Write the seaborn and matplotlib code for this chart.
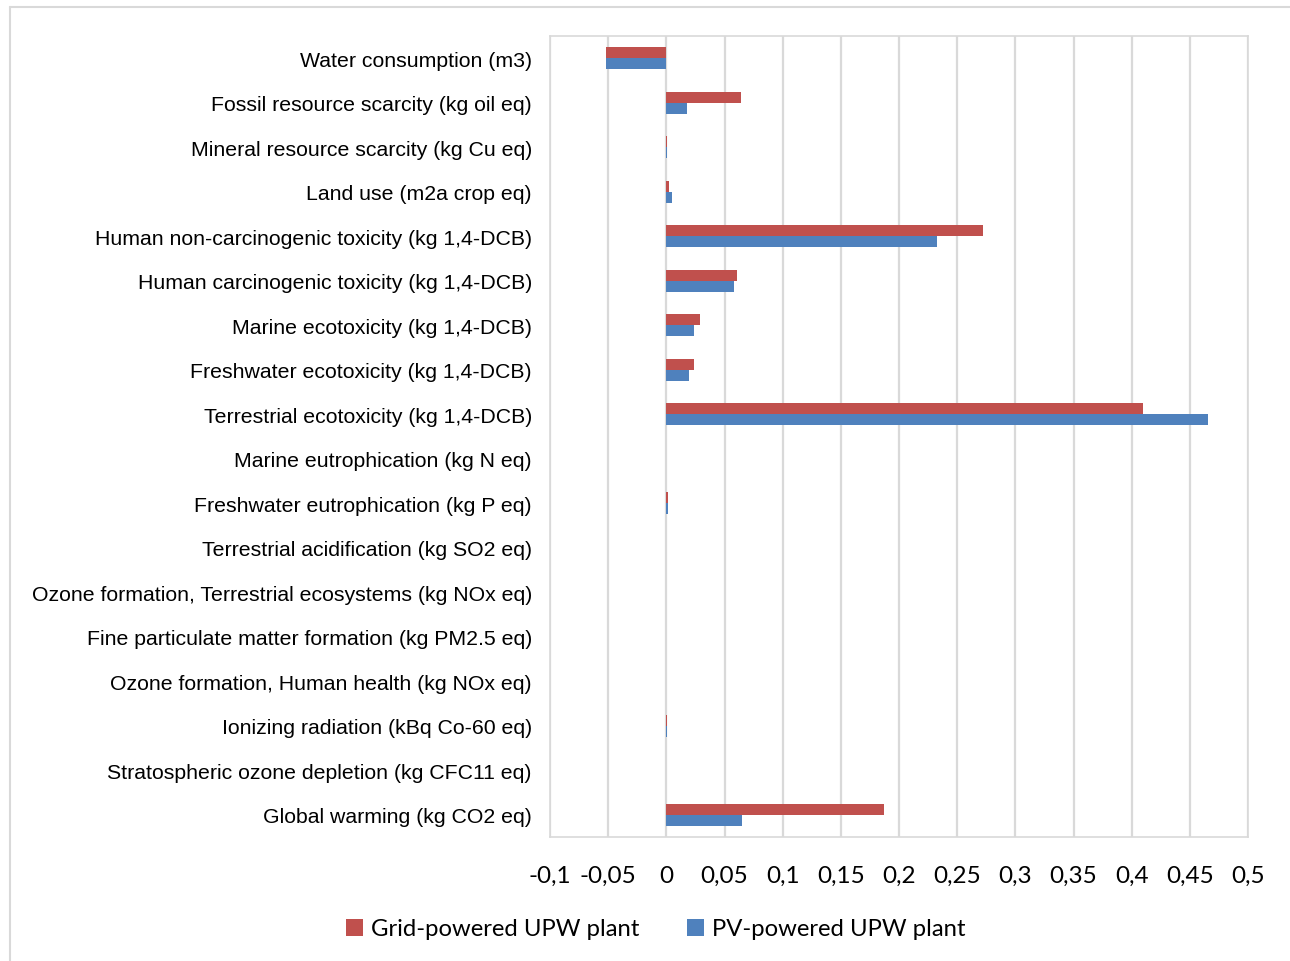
import numpy as np
import pandas as pd
import matplotlib
matplotlib.use("Agg")
import matplotlib.pyplot as plt
from matplotlib.lines import Line2D
from matplotlib.ticker import FuncFormatter, MultipleLocator
import seaborn as sns

# impact categories, top to bottom as in the chart
categories = [
    "Water consumption (m3)",
    "Fossil resource scarcity (kg oil eq)",
    "Mineral resource scarcity (kg Cu eq)",
    "Land use (m2a crop eq)",
    "Human non-carcinogenic toxicity (kg 1,4-DCB)",
    "Human carcinogenic toxicity (kg 1,4-DCB)",
    "Marine ecotoxicity (kg 1,4-DCB)",
    "Freshwater ecotoxicity (kg 1,4-DCB)",
    "Terrestrial ecotoxicity (kg 1,4-DCB)",
    "Marine eutrophication (kg N eq)",
    "Freshwater eutrophication (kg P eq)",
    "Terrestrial acidification (kg SO2 eq)",
    "Ozone formation, Terrestrial ecosystems (kg NOx eq)",
    "Fine particulate matter formation (kg PM2.5 eq)",
    "Ozone formation, Human health (kg NOx eq)",
    "Ionizing radiation (kBq Co-60 eq)",
    "Stratospheric ozone depletion (kg CFC11 eq)",
    "Global warming (kg CO2 eq)",
]
grid_vals = [-0.052, 0.0645, 0.0003, 0.002, 0.272, 0.0608, 0.0293, 0.0238, 0.4096,
             0.0, 0.0012, 0.0, 0.0, 0.0, 0.0, 0.001, 0.0, 0.187]
pv_vals = [-0.052, 0.0181, 0.0003, 0.0052, 0.233, 0.0585, 0.0238, 0.0192, 0.4652,
           0.0, 0.0012, 0.0, 0.0, 0.0, 0.0, 0.001, 0.0, 0.0654]
series = ["Grid-powered UPW plant", "PV-powered UPW plant"]
colors = ["#C0504D", "#4F81BD"]

df = pd.DataFrame({
    "category": categories * 2,
    "value": grid_vals + pv_vals,
    "series": [series[0]] * len(categories) + [series[1]] * len(categories),
})

sns.set_style("white")
fig = plt.figure(figsize=(12.9, 9.62), dpi=100)
ax = fig.add_axes([550 / 1290, 1 - 838 / 962, 698 / 1290, 801 / 962])

sns.barplot(data=df, y="category", x="value", hue="series", order=categories,
            hue_order=series, palette=colors, saturation=1, orient="h", width=0.5,
            linewidth=0, ax=ax, legend=True)

ax.set_xlim(-0.1, 0.5)
ax.set_ylim(len(categories) - 0.5, -0.5)
ax.xaxis.set_major_locator(MultipleLocator(0.05))
ax.xaxis.set_major_formatter(FuncFormatter(lambda v, p: ("%g" % round(v, 3)).replace(".", ",")))
ax.grid(axis="x", color="#D9D9D9", linewidth=1.6)
ax.set_axisbelow(True)
ax.set_xlabel("")
ax.set_ylabel("")
for s in ax.spines.values():
    s.set_color("#D9D9D9")
    s.set_linewidth(1.2)
ax.tick_params(axis="y", length=0, pad=13, labelsize=15.3, labelcolor="black")
ax.tick_params(axis="x", length=0, pad=20, labelsize=17.5, labelcolor="black")
for t in ax.get_yticklabels():
    t.set_fontfamily("Liberation Sans")
for t in ax.get_xticklabels():
    t.set_fontfamily("Lato")

handles, labels = ax.get_legend_handles_labels()
ax.get_legend().remove()
leg = fig.legend(handles, labels, loc="center", bbox_to_anchor=(656 / 1290, 1 - 930 / 962),
                 ncol=2, frameon=False, handlelength=0.7, handleheight=0.7,
                 columnspacing=2.0, handletextpad=0.35,
                 prop={"family": "Lato", "size": 17.2})
for t in leg.get_texts():
    t.set_color("black")

# outer chart border (top and left visible)
fig.add_artist(Line2D([10 / 1290, 1], [1 - 8 / 962, 1 - 8 / 962], color="#D9D9D9", lw=1.5))
fig.add_artist(Line2D([10 / 1290, 10 / 1290], [0, 1 - 8 / 962], color="#D9D9D9", lw=1.5))

fig.savefig("out.png", dpi=100)
